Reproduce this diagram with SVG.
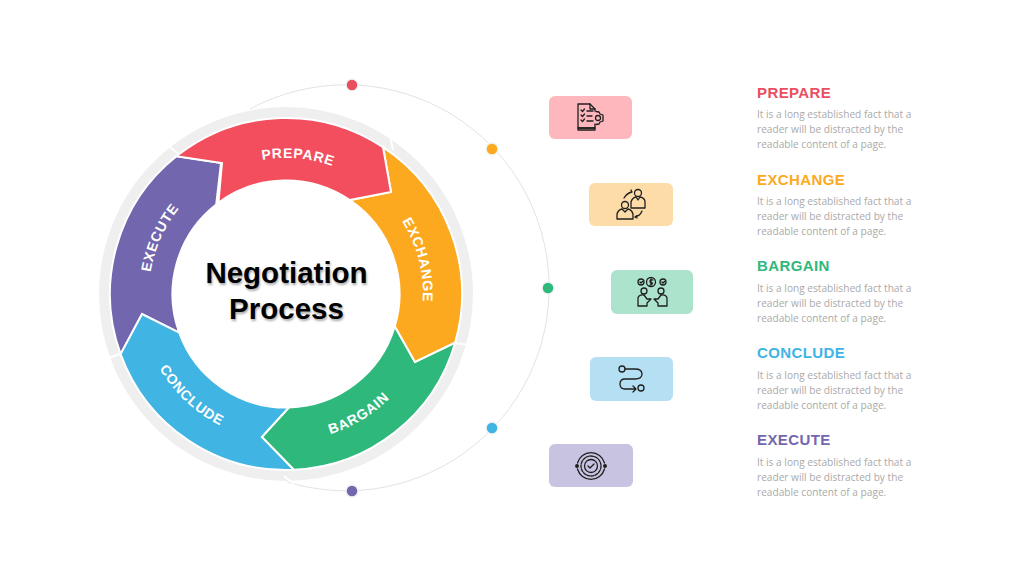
<svg xmlns="http://www.w3.org/2000/svg" width="1024" height="576" viewBox="0 0 1024 576">
<defs>
<style>
.seg{stroke:#fff;stroke-width:2;stroke-linejoin:miter}
.ring{font:bold 14px "Liberation Sans",Arial,sans-serif;fill:#fff;letter-spacing:.7px;text-anchor:middle}
.h{font:bold 15px "Liberation Sans",Arial,sans-serif;letter-spacing:.4px}
.b{font:10.150px "Open Sans",sans-serif;fill:#aaa}
.c{font:bold 29.5px "Liberation Sans",Arial,sans-serif;fill:#000;text-anchor:middle}
.cs{fill:#aaa;filter:url(#soft)}
.i{fill:none;stroke:#1f1f1f;stroke-width:1.3;stroke-linecap:round;stroke-linejoin:round}
.nick{stroke:#fff;stroke-width:2;fill:none}
.dot{stroke:#f2f2f2;stroke-width:1.5}
.card{rx:6px;ry:6px}
</style>
<filter id="soft" x="-10%" y="-20%" width="120%" height="140%"><feGaussianBlur stdDeviation="1.200"/></filter>
<path id="pPrepare" d="M208 182.600A136 136 0 0 1 382.200 197.800"/>
<path id="pExchange" d="M366.500 183.200A137 137 0 0 1 409.100 354.100"/>
<path id="pExecute" d="M154.300 331.800A137 137 0 0 1 225.900 170.900"/>
<path id="pBargain" d="M263.500 439.200A147 147 0 0 0 425.200 341.400"/>
<path id="pConclude" d="M140.100 311.900A147 147 0 0 0 278.300 440.800"/>
</defs>
<rect width="1024" height="576" fill="#fff"/>
<g id="connectors">
<path d="M250 109A203 203 0 1 1 287 482" fill="none" stroke="#e3e3e3" stroke-width="1"/>
</g>
<circle id="ring-base" cx="286" cy="294" r="181" fill="none" stroke="#efefef" stroke-width="12"/>
<g id="ring-nicks">
<path class="nick" d="M168 146L180 155M390 136L393 150M469 345L455 343M284 476L294 484M109 358L122 353"/>
</g>
<g id="seg-execute"><path class="seg" fill="#7267ae" d="M120.600 354.100A176 176 0 0 1 176.400 156.200L221 163L216.200 204.600A113.500 113.500 0 0 0 179.200 332.600L142 314Z"/><text class="ring"><textPath href="#pExecute" startOffset="50%">EXECUTE</textPath></text></g>
<g id="seg-conclude"><path class="seg" fill="#40b4e3" d="M120.600 354.100L142 314L179.200 332.600A113.500 113.500 0 0 0 289 407.500L262 437L294 469.800A176 176 0 0 1 120.600 354.100Z"/><text class="ring"><textPath href="#pConclude" startOffset="50%">CONCLUDE</textPath></text></g>
<g id="seg-bargain"><path class="seg" fill="#2fb87c" d="M294 469.800L262 437L289 407.500A113.500 113.500 0 0 0 394.800 326.300L415 362L455.200 342.500A176 176 0 0 1 294 469.800Z"/><text class="ring"><textPath href="#pBargain" startOffset="50%">BARGAIN</textPath></text></g>
<g id="seg-exchange"><path class="seg" fill="#fca91f" d="M383 147.100A176 176 0 0 1 455.200 342.500L415 362L394.800 326.300A113.500 113.500 0 0 0 349.800 200.100L391 192Z"/><text class="ring"><textPath href="#pExchange" startOffset="49.500%">EXCHANGE</textPath></text></g>
<g id="seg-prepare"><path class="seg" fill="#f34e5e" d="M176.400 156.200L179 154.300A176 176 0 0 1 383 147.100L391 192L349.800 200.100A113.500 113.500 0 0 0 218.400 202.800L222 163Z"/><text class="ring"><textPath href="#pPrepare" startOffset="50%">PREPARE</textPath></text></g>
<g id="center">
<text class="c cs" x="287.500" y="284.500">Negotiation</text><text class="c cs" x="287.500" y="320.500">Process</text>
<text class="c" x="286.500" y="283">Negotiation</text><text class="c" x="286.500" y="319">Process</text>
</g>
<g id="dots">
<circle class="dot" cx="352" cy="85" r="6" fill="#e94f5f"/>
<circle class="dot" cx="492" cy="149" r="6" fill="#fca91f"/>
<circle class="dot" cx="548" cy="288" r="6" fill="#2fb87c"/>
<circle class="dot" cx="492" cy="428" r="6" fill="#40b4e3"/>
<circle class="dot" cx="352" cy="491" r="6" fill="#7267ae"/>
</g>
<g id="card-prepare"><rect class="card" x="549" y="96" width="83" height="43" fill="#fdb7bd"/>
<g class="i"><path d="M595 111V109L590 104H578V128H595V124"/><path d="M590 104V109H595M581 110l1.500 1.500 2-2.500M581 115l1.500 1.500 2-2.500M581 120l1.500 1.500 2-2.500M587 111H593M587 116H592M587 121H593"/><path d="M596 111.500l3 .5 1 2 3 1v6l-3 1-1 2-3 .5"/><circle cx="598" cy="118" r="2.500"/><rect x="578" y="128" width="17" height="2"/></g></g>
<g id="card-exchange"><rect class="card" x="589" y="183" width="84" height="43" fill="#fddca8"/>
<g class="i"><circle cx="638" cy="193" r="3.500"/><path d="M631 208V202Q632 198 636 197L638 200L640 197Q645 198 645 202V208Z"/><circle cx="625" cy="205" r="3.500"/><path d="M617 219V214Q618 210 622 209L625 212L628 209Q632 210 633 214V219Z"/><path d="M624 198Q627 193 632 192M630 192.500l2-.5-1-2M642 211Q640 216 635 217M637 215.500l-2 1.500 2 1"/></g></g>
<g id="card-bargain"><rect class="card" x="611" y="270" width="82" height="44" fill="#abe3cd"/>
<g class="i" stroke-width="1"><circle cx="641" cy="282" r="3"/><circle cx="651" cy="282" r="4.500"/><circle cx="663" cy="282" r="3"/><path d="M653 280Q650 279 650 281T652 283T650 285M651 279V285M640 282l1 1 1.500-1.500M662 282l1 1 1.500-1.500"/><circle cx="644" cy="291" r="3"/><circle cx="661" cy="291" r="3"/><path d="M638 306V298Q639 294 644 295L647 299H651L647 303V306ZM667 306V298Q666 294 661 295L658 299H654L658 303V306Z"/></g></g>
<g id="card-conclude"><rect class="card" x="590" y="357" width="83" height="44" fill="#b5dff3"/>
<g class="i"><circle cx="622" cy="369" r="3"/><circle cx="641" cy="388" r="3"/><path d="M625 369H635Q642 369 642 374T635 379H625Q620 379 620 384T625 389H636M633 386l3 3-3 3"/></g></g>
<g id="card-execute"><rect class="card" x="549" y="444" width="84" height="43" fill="#c8c3e0"/>
<g class="i"><circle cx="591" cy="466" r="6.500"/><circle cx="591" cy="466" r="10" stroke-dasharray="3 1.200"/><path d="M588 466l2 2 4-4"/><path d="M577.500 463A14 14 0 0 1 604.500 463M604.500 469A14 14 0 0 1 577.500 469"/><circle cx="577" cy="466" r="1.300" fill="#1f1f1f"/><circle cx="605" cy="466" r="1.300" fill="#1f1f1f"/></g></g>
<g id="text-prepare"><text class="h" x="757" y="98" fill="#e94f5f">PREPARE</text><text class="b" x="757" y="118">It is a long established fact that a</text><text class="b" x="757" y="133">reader will be distracted by the</text><text class="b" x="757" y="148">readable content of a page.</text></g>
<g id="text-exchange"><text class="h" x="757" y="185" fill="#fca91f">EXCHANGE</text><text class="b" x="757" y="205">It is a long established fact that a</text><text class="b" x="757" y="220">reader will be distracted by the</text><text class="b" x="757" y="235">readable content of a page.</text></g>
<g id="text-bargain"><text class="h" x="757" y="271" fill="#2fb87c">BARGAIN</text><text class="b" x="757" y="292">It is a long established fact that a</text><text class="b" x="757" y="307">reader will be distracted by the</text><text class="b" x="757" y="322">readable content of a page.</text></g>
<g id="text-conclude"><text class="h" x="757" y="358" fill="#40b4e3">CONCLUDE</text><text class="b" x="757" y="379">It is a long established fact that a</text><text class="b" x="757" y="394">reader will be distracted by the</text><text class="b" x="757" y="409">readable content of a page.</text></g>
<g id="text-execute"><text class="h" x="757" y="445" fill="#7267ae">EXECUTE</text><text class="b" x="757" y="466">It is a long established fact that a</text><text class="b" x="757" y="481">reader will be distracted by the</text><text class="b" x="757" y="496">readable content of a page.</text></g>
</svg>
